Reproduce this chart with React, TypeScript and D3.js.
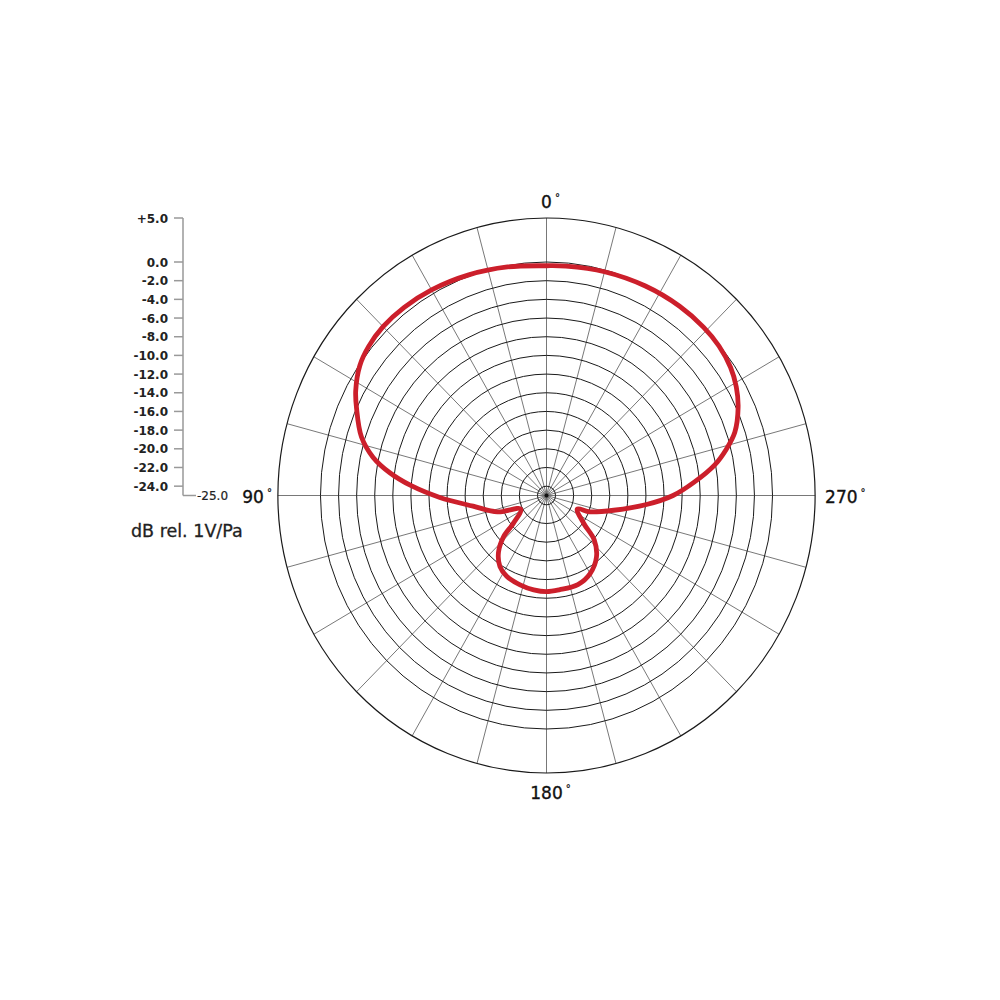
import React from 'react';
import * as d3 from 'd3';

// ---- data ----
const ringLevels = [0, -2, -4, -6, -8, -10, -12, -14, -16, -18, -20, -22, -24];
const outerLevel = 5;
const centerLevel = -25;
const spokeAngles = [0, 15, 30, 45, 60, 75, 90, 105, 120, 135, 150, 165, 180, 195, 210, 225, 240, 255, 270, 285, 300, 315, 330, 345];
const axisTickValues = [5, 0, -2, -4, -6, -8, -10, -12, -14, -16, -18, -20, -22, -24];
const axisTickLabels = ['+5.0', '0.0', '-2.0', '-4.0', '-6.0', '-8.0', '-10.0', '-12.0', '-14.0', '-16.0', '-18.0', '-20.0', '-22.0', '-24.0'];
const axisEndLabel = '-25.0';
const axisUnit = 'dB rel. 1V/Pa';
const angleLabelValues = [0, 90, 180, 270];
const angleLabelTexts = ['0', '90', '180', '270'];

// polar response: angle (deg, counter-clockwise from front, 90 = left) and level in dB
const patternAngles = [0, 10, 20, 30, 38, 45, 51, 56, 62, 66, 73, 78, 82, 86, 91, 98, 108, 117, 129, 133, 139, 146, 153, 163, 172, 180, 188, 200, 210, 220, 228, 234, 247, 250, 258, 265, 270, 275, 280, 284, 288, 294, 299, 304, 310, 316, 324, 334, 345, 355];
const patternDb = [-0.4, -0.15, 0.15, 0.45, 0.6, 0.6, 0.35, -0.1, -1.1, -2.0, -3.6, -5.4, -7.5, -10.0, -13.2, -16.8, -19.3, -21.8, -20.3, -18.5, -16.9, -15.8, -15.3, -15.0, -14.8, -14.7, -14.8, -14.85, -15.35, -16.4, -17.9, -19.9, -21.3, -19.9, -17.4, -13.9, -11.0, -8.6, -6.1, -4.5, -3.1, -1.8, -1.0, -0.45, -0.1, 0.03, 0.05, -0.05, -0.2, -0.35];

// ---- layout ----
const W = 1000;
const H = 1000;
const cx = 546.5;
const cy = 495.5;
const xRatio = 0.968;
const rScale = d3.scaleLinear().domain([-25, 0, 5]).range([0, 233.5, 277.5]);
const rad = (deg: number) => (deg * Math.PI) / 180;

const px = (angle: number, db: number) => cx - rScale(db) * xRatio * Math.sin(rad(angle));
const py = (angle: number, db: number) => cy - rScale(db) * Math.cos(rad(angle));

const axisX = 183;
const yAxis = (v: number) => cy - rScale(v);

export default function App() {
  const pts: [number, number][] = patternAngles.map((a, i) => [px(a, patternDb[i]), py(a, patternDb[i])]);
  const line = d3.line().curve(d3.curveCatmullRomClosed.alpha(0.5));
  const pathD = line(pts) || '';

  const labelPos = (a: number) => {
    if (a === 0) return { x: cx + 4, y: cy - rScale(outerLevel) - 10, anchor: 'middle' };
    if (a === 90) return { x: cx - rScale(outerLevel) * xRatio - 6, y: cy + 7, anchor: 'end' };
    if (a === 180) return { x: cx + 4, y: cy + rScale(outerLevel) + 26, anchor: 'middle' };
    return { x: cx + rScale(outerLevel) * xRatio + 10, y: cy + 7, anchor: 'start' };
  };

  return (
    <svg width={W} height={H} style={{ position: 'absolute', left: 0, top: 0, background: '#fff' }} fontFamily="'DejaVu Sans', sans-serif">
      <rect x={0} y={0} width={W} height={H} fill="#fff" />
      {/* spokes */}
      {spokeAngles.map((a) => (
        <line key={'s' + a} x1={cx} y1={cy} x2={px(a, outerLevel)} y2={py(a, outerLevel)} stroke="#555" strokeWidth={0.8} />
      ))}
      {/* rings */}
      {ringLevels.map((v) => (
        <ellipse key={'r' + v} cx={cx} cy={cy} rx={rScale(v) * xRatio} ry={rScale(v)} fill="none" stroke="#1a1a1a" strokeWidth={1} />
      ))}
      <ellipse cx={cx} cy={cy} rx={rScale(outerLevel) * xRatio} ry={rScale(outerLevel)} fill="none" stroke="#1a1a1a" strokeWidth={1.2} />
      <circle cx={cx} cy={cy} r={rScale(centerLevel) + 2} fill="#111" />

      {/* pattern */}
      <path d={pathD} fill="none" stroke="#cc1f2b" strokeWidth={4.8} strokeLinejoin="round" />

      {/* angle labels */}
      {angleLabelValues.map((a, i) => {
        const p = labelPos(a);
        return (
          <text key={'al' + a} x={p.x} y={p.y} textAnchor={p.anchor as any} fontSize={17} fill="#111" stroke="#111" strokeWidth={0.35}>
            {angleLabelTexts[i]}
            <tspan fontSize={10} dx={3} dy={-7} strokeWidth={0.2}>°</tspan>
          </text>
        );
      })}

      {/* level axis */}
      <line x1={axisX} y1={yAxis(outerLevel)} x2={axisX} y2={yAxis(centerLevel)} stroke="#999" strokeWidth={1.5} />
      <line x1={axisX} y1={yAxis(centerLevel)} x2={axisX + 13} y2={yAxis(centerLevel)} stroke="#999" strokeWidth={1.5} />
      {axisTickValues.map((v, i) => (
        <g key={'t' + v}>
          <line x1={axisX - 9} y1={yAxis(v)} x2={axisX} y2={yAxis(v)} stroke="#999" strokeWidth={1.5} />
          <text x={axisX - 15} y={yAxis(v) + 4.5} textAnchor="end" fontSize={12} fontWeight="bold" fill="#222">{axisTickLabels[i]}</text>
        </g>
      ))}
      <text x={axisX + 14} y={yAxis(centerLevel) + 4.5} fontSize={12} fill="#222" stroke="#222" strokeWidth={0.2}>{axisEndLabel}</text>
      <text x={131} y={537} fontSize={17.5} fill="#222" stroke="#222" strokeWidth={0.3}>{axisUnit}</text>
    </svg>
  );
}
